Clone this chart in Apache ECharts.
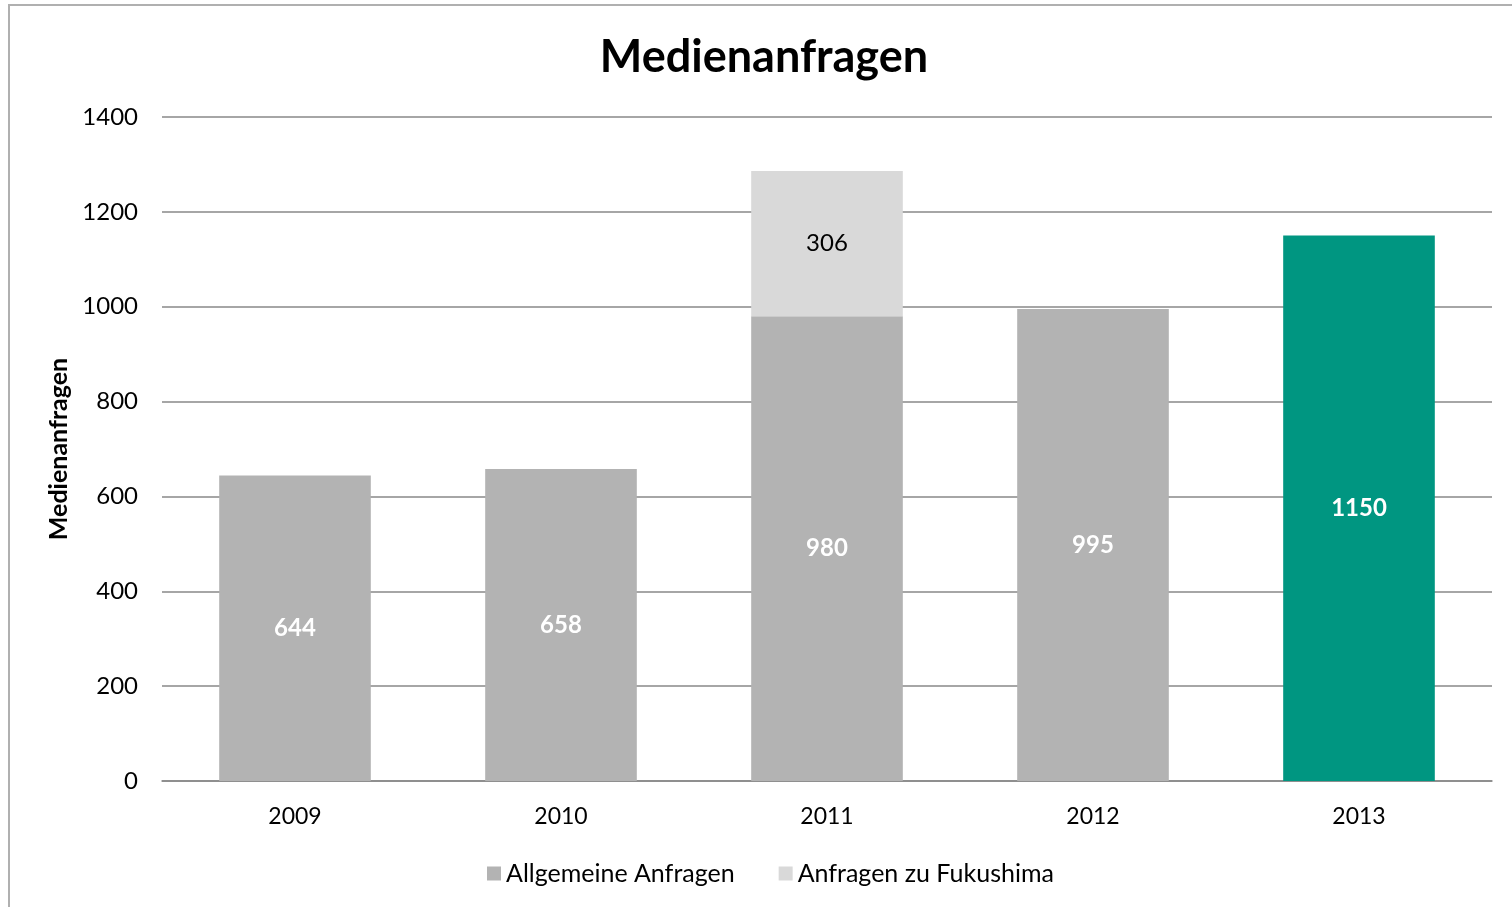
<!DOCTYPE html>
<html>
<head>
<meta charset="utf-8">
<script src="https://cdn.jsdelivr.net/npm/echarts@6/dist/echarts.min.js"></script>
<style>
  html, body { margin: 0; padding: 0; background: #fff; }
  #main { width: 1512px; height: 907px; }
</style>
</head>
<body>
<div id="main"></div>
<script>
// Daten
var jahre = ['2009', '2010', '2011', '2012', '2013'];
var allgemein = [644, 658, 980, 995, 1150];
var fukushima = ['-', '-', 306, '-', '-'];
var yTicks = [0, 200, 400, 600, 800, 1000, 1200, 1400];

var grau = '#b3b3b3';
var hellgrau = '#d9d9d9';
var gruen = '#009681';
var schrift = 'Lato, "Open Sans", sans-serif';

// 2013 hervorgehoben
var allgemeinData = allgemein.map(function (v, i) {
    if (jahre[i] === '2013') {
        return { value: v, itemStyle: { color: gruen } };
    }
    return v;
});

var dom = document.getElementById("main");
var myChart = echarts.init(dom);
var option = null;

option = {
    animation: false,
    textStyle: { fontFamily: schrift, color: '#000' },
    title: {
        text: 'Medienanfragen',
        left: 759,
        top: 30,
        textAlign: 'center',
        textStyle: { fontSize: 45, fontWeight: 'bold', color: '#000', fontFamily: schrift }
    },
    graphic: [{
        type: 'rect',
        shape: { x: 9, y: 5, width: 1600, height: 1000 },
        style: { fill: 'none', stroke: '#b0b0b0', lineWidth: 2 },
        silent: true
    }],
    legend: {
        data: ['Allgemeine Anfragen', 'Anfragen zu Fukushima'],
        left: 482,
        top: 856,
        itemWidth: 14,
        itemHeight: 14,
        itemGap: 44,
        icon: 'rect',
        textStyle: { fontSize: 25, color: '#000', fontFamily: schrift }
    },
    grid: { left: 162, right: 20, top: 117, bottom: 126 },
    xAxis: {
        type: 'category',
        data: jahre,
        axisTick: { show: false },
        axisLine: { lineStyle: { color: '#888', width: 1.5 } },
        axisLabel: { fontSize: 23, color: '#000', margin: 24 }
    },
    yAxis: {
        type: 'value',
        min: yTicks[0],
        max: yTicks[yTicks.length - 1],
        interval: 200,
        name: 'Medienanfragen',
        nameLocation: 'middle',
        nameGap: 90,
        nameTextStyle: { fontSize: 25, fontWeight: 'bold', color: '#000' },
        axisLine: { show: false },
        axisTick: { show: false },
        axisLabel: {
            fontSize: 24,
            color: '#000',
            margin: 24,
            formatter: function (v) { return String(v); }
        },
        splitLine: { lineStyle: { color: '#888', width: 1.5 } }
    },
    series: [{
        name: 'Allgemeine Anfragen',
        type: 'bar',
        stack: 'gesamt',
        barWidth: '57%',
        data: allgemeinData,
        itemStyle: { color: grau },
        label: {
            show: true,
            position: 'inside',
            color: '#fff',
            fontSize: 24,
            fontWeight: 'bold'
        }
    }, {
        name: 'Anfragen zu Fukushima',
        type: 'bar',
        stack: 'gesamt',
        barWidth: '57%',
        data: fukushima,
        itemStyle: { color: hellgrau },
        label: {
            show: true,
            position: 'inside',
            color: '#000',
            fontSize: 24
        }
    }]
};

if (option && typeof option === "object") {
    myChart.setOption(option, true);
}
</script>
</body>
</html>
